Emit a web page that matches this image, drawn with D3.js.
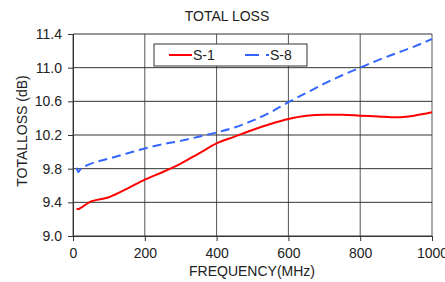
<!DOCTYPE html>
<html>
<head>
<meta charset="utf-8">
<script src="https://cdn.jsdelivr.net/npm/d3@7"></script>
<style>
  body { margin: 0; background: #fff; overflow: hidden; }
  svg { display: block; font-family: "Liberation Sans", Arial, sans-serif; }
</style>
</head>
<body>
<svg id="chart" width="445" height="282"></svg>
<script>
//

const freq = [10, 15, 20, 45, 100, 150, 200, 250, 300, 350, 400, 450, 500, 550, 600, 650, 700, 750, 800, 850, 900, 950, 1000]
const s1 = [9.32, 9.32, 9.33, 9.40, 9.46, 9.56, 9.67, 9.76, 9.86, 9.98, 10.10, 10.18, 10.26, 10.33, 10.39, 10.43, 10.44, 10.44, 10.43, 10.42, 10.41, 10.43, 10.47]
const s8 = [9.81, 9.76, 9.79, 9.85, 9.92, 9.98, 10.04, 10.09, 10.13, 10.18, 10.23, 10.29, 10.37, 10.47, 10.59, 10.70, 10.81, 10.91, 11.00, 11.09, 11.17, 11.25, 11.34]
const xTicks = [0, 200, 400, 600, 800, 1000]
const yTicks = [9.0, 9.4, 9.8, 10.2, 10.6, 11.0, 11.4]

//

const svg = d3.select('#chart')
const margin = {top: 34, right: 13, bottom: 46, left: 73}
const width = 445 - margin.left - margin.right
const height = 282 - margin.top - margin.bottom
const fs = 14

const x = d3.scaleLinear().domain([0, 1000]).range([0, width])
const y = d3.scaleLinear().domain([9.0, 11.4]).range([height, 0])

const g = svg.append('g')
  .attr('transform', 'translate(' + margin.left + ',' + margin.top + ')')

// grid
g.selectAll('.vgrid').data(xTicks).enter().append('line')
  .attr('x1', d => x(d)).attr('x2', d => x(d))
  .attr('y1', 0).attr('y2', height)
  .attr('stroke', '#555').attr('stroke-width', 1)
g.selectAll('.hgrid').data(yTicks).enter().append('line')
  .attr('x1', 0).attr('x2', width)
  .attr('y1', d => y(d)).attr('y2', d => y(d))
  .attr('stroke', '#333').attr('stroke-width', 1)

// axes
const xAxis = d3.axisBottom(x).tickValues(xTicks).tickFormat(d3.format('d')).tickSize(5).tickPadding(7)
const yAxis = d3.axisLeft(y).tickValues(yTicks).tickFormat(d3.format('.1f')).tickSize(5).tickPadding(6)

g.append('g')
  .attr('transform', 'translate(0,' + height + ')')
  .call(xAxis)
  .call(a => a.select('.domain').attr('stroke', '#333'))
  .call(a => a.selectAll('line').attr('stroke', '#333'))
  .call(a => a.selectAll('text').attr('font-size', fs).attr('fill', '#222').attr('font-family', 'Liberation Sans, Arial, sans-serif'))

g.append('g')
  .call(yAxis)
  .call(a => a.select('.domain').attr('stroke', '#333'))
  .call(a => a.selectAll('line').attr('stroke', '#333'))
  .call(a => a.selectAll('text').attr('font-size', fs).attr('fill', '#222').attr('font-family', 'Liberation Sans, Arial, sans-serif'))

// lines
const line = d3.line()
  .x(d => x(d[0]))
  .y(d => y(d[1]))
  .curve(d3.curveMonotoneX)

g.append('path')
  .datum(freq.map((f, i) => [f, s1[i]]))
  .attr('d', line)
  .attr('fill', 'none')
  .attr('stroke', '#ff0000')
  .attr('stroke-width', 2)

g.append('path')
  .datum(freq.map((f, i) => [f, s8[i]]))
  .attr('d', line)
  .attr('fill', 'none')
  .attr('stroke', '#3366ff')
  .attr('stroke-width', 2)
  .attr('stroke-dasharray', '9,5')

// titles
svg.append('text')
  .attr('x', 227).attr('y', 21)
  .attr('text-anchor', 'middle')
  .attr('font-size', fs).attr('fill', '#222')
  .text('TOTAL LOSS')

svg.append('text')
  .attr('x', 252).attr('y', 276)
  .attr('text-anchor', 'middle')
  .attr('font-size', fs).attr('fill', '#222')
  .text('FREQUENCY(MHz)')

svg.append('text')
  .attr('transform', 'translate(27,131) rotate(-90)')
  .attr('text-anchor', 'middle')
  .attr('font-size', fs).attr('fill', '#222')
  .text('TOTALLOSS (dB)')

// legend
const legend = svg.append('g').attr('transform', 'translate(154,44)')
legend.append('rect')
  .attr('width', 153).attr('height', 22)
  .attr('fill', '#fff').attr('stroke', '#333').attr('stroke-width', 1)
legend.append('line')
  .attr('x1', 15).attr('x2', 38).attr('y1', 11).attr('y2', 11)
  .attr('stroke', '#ff0000').attr('stroke-width', 2)
legend.append('text')
  .attr('x', 39).attr('y', 16)
  .attr('font-size', fs).attr('fill', '#222')
  .text('S-1')
legend.append('line')
  .attr('x1', 91).attr('x2', 115).attr('y1', 11).attr('y2', 11)
  .attr('stroke', '#3366ff').attr('stroke-width', 2)
  .attr('stroke-dasharray', '14,7')
legend.append('text')
  .attr('x', 116).attr('y', 16)
  .attr('font-size', fs).attr('fill', '#222')
  .text('S-8')
</script>
</body>
</html>
